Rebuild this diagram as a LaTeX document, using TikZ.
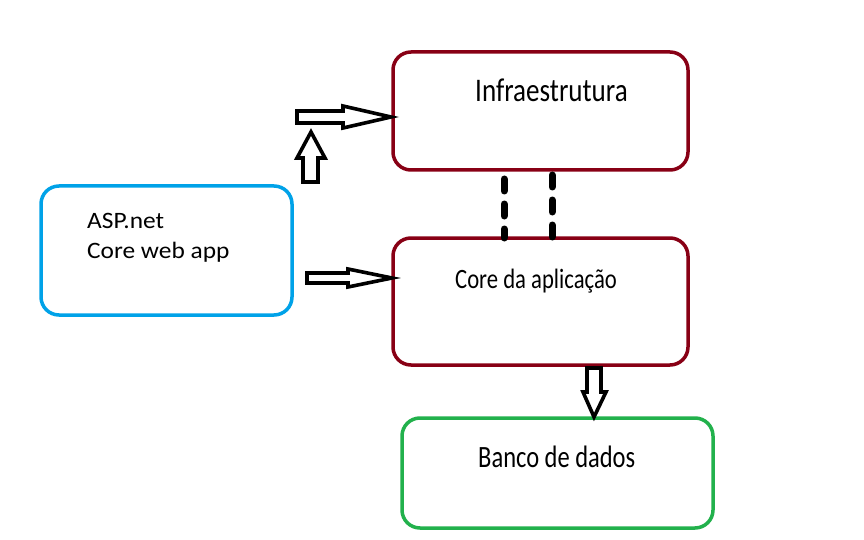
\documentclass[tikz,border=0pt]{standalone}
\usepackage{graphicx}
\usepackage{fontspec}
\setmainfont{Carlito}
\usetikzlibrary{calc}
\definecolor{paintred}{HTML}{880015}
\definecolor{paintblue}{HTML}{00A2E8}
\definecolor{paintgreen}{HTML}{22B14C}
\newcommand{\squeeze}[3]{\scalebox{#1}[1]{\fontsize{#2}{#2}\selectfont #3}}
\tikzset{
  box/.style={draw=#1, line width=3.5pt, rounded corners=18pt, fill=white},
  lbl/.style={anchor=base west, inner sep=0pt, align=left},
  hollow/.style={draw=black, line width=3.6pt, fill=white, line join=miter},
  dashlink/.style={line width=7pt, line cap=round, dash pattern=on 12pt off 13pt}
}
\begin{document}
\begin{tikzpicture}[x=1pt, y=-1pt]
\useasboundingbox (0,0) rectangle (864,540);
% boxes
\path[box=paintred] (393,52) rectangle (688,170);
\coordinate (infraSW) at (393,170);
\path[box=paintred] (393,238) rectangle (688,365);
\coordinate (coreNW) at (393,238);
\path[box=paintgreen] (402,418) rectangle (713,528);
\path[box=paintblue] (41,186) rectangle (292,315);
% labels
\node[lbl] (infra) at (475,102) {\squeeze{0.82}{33}{Infraestrutura}};
\node[lbl] (core) at (455,288) {\squeeze{0.81}{28}{Core da aplicação}};
\node[lbl] (banco) at (478,467) {\squeeze{0.79}{31}{Banco de dados}};
\node[lbl] (asp) at (87,228) {\squeeze{1.08}{23.5}{ASP.net}};
\node[lbl] (asp2) at (87,258) {\squeeze{1.08}{23.5}{Core web app}};
% dashed links
\draw[dashlink] ($(infraSW)+(111,9)$) -- ($(coreNW)+(111,0)$);
\draw[dashlink] ($(infraSW)+(159,5)$) -- ($(coreNW)+(159,0)$);
% hollow arrows
\draw[hollow] (297,111) -- (343,111) -- (343,106) -- (391,117) -- (343,128) -- (343,123) -- (297,123) -- cycle;
\draw[hollow] (303,182) -- (303,158) -- (297,158) -- (311,132) -- (325,158) -- (318,158) -- (318,182) -- cycle;
\draw[hollow] (307,273) -- (348,273) -- (348,269) -- (392,278) -- (348,287) -- (348,283) -- (307,283) -- cycle;
\draw[hollow] (587,368) -- (601,368) -- (601,392) -- (606,392) -- (594,417) -- (583,392) -- (587,392) -- cycle;
\end{tikzpicture}
\end{document}
